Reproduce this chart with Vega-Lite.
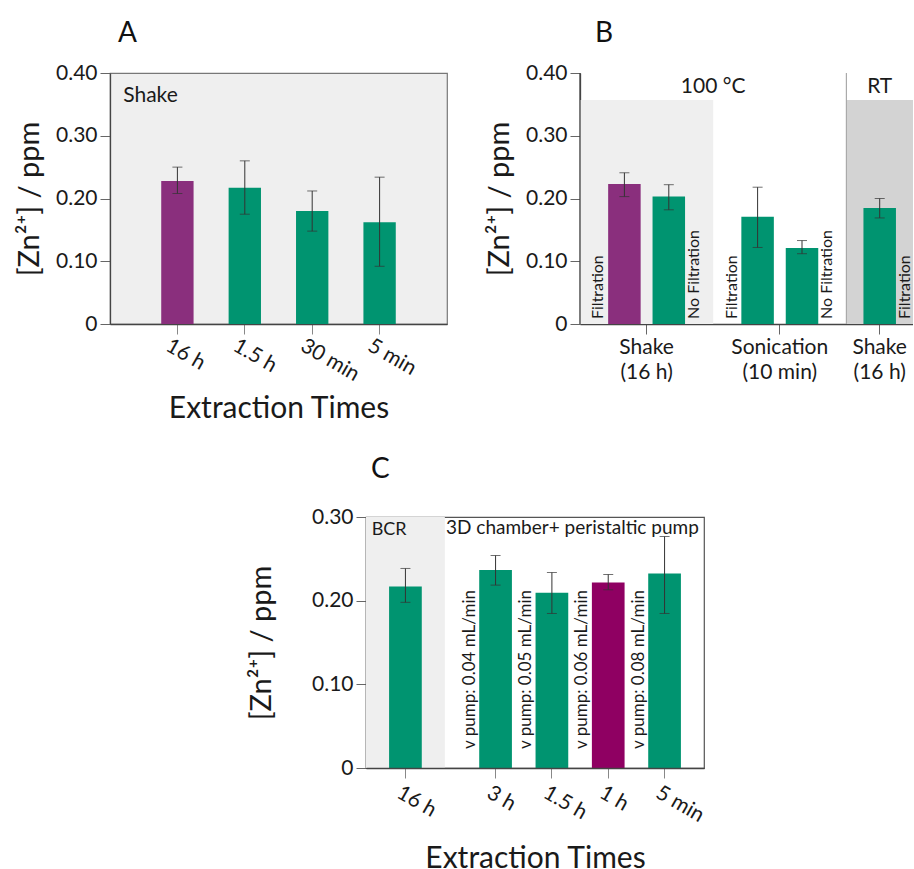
{
  "$schema": "https://vega.github.io/schema/vega-lite/v6.json",
  "background": "white",
  "padding": {"left": 14, "top": 19, "right": 0, "bottom": 0},
  "config": {
    "font": "Lato",
    "view": {"stroke": null},
    "axis": {"labelFont": "Lato", "titleFont": "Lato", "labelFontSize": 21, "titleFontSize": 29, "titleFontWeight": "normal", "labelColor": "#1a1a1a", "titleColor": "#1a1a1a", "domainColor": "#444", "domainWidth": 1.3, "tickColor": "#666", "tickSize": 10, "grid": false},
    "title": {"font": "Lato", "fontSize": 28, "fontWeight": "normal", "anchor": "start", "frame": "group", "color": "#111", "baseline": "alphabetic"},
    "text": {"font": "Lato", "color": "#1a1a1a"}
  },
  "spacing": 30,
  "vconcat": [
    {
      "bounds": "flush",
      "spacing": 133,
      "hconcat": [
        {
          "width": 337,
          "height": 251,
          "title": {"text": "A", "dx": 8, "offset": 14},
          "view": {"fill": "#efefef", "stroke": "#777", "strokeWidth": 1.2},
          "data": {"values": [
            {"t": "16 h", "v": 0.228, "lo": 0.208, "hi": 0.250},
            {"t": "1.5 h", "v": 0.217, "lo": 0.175, "hi": 0.260},
            {"t": "30 min", "v": 0.180, "lo": 0.148, "hi": 0.212},
            {"t": "5 min", "v": 0.162, "lo": 0.092, "hi": 0.234}
          ]},
          "encoding": {
            "x": {"field": "t", "type": "nominal", "sort": null,
              "scale": {"domain": ["16 h", "1.5 h", "30 min", "5 min"], "paddingInner": 0.52, "paddingOuter": 0.76},
              "axis": {"title": "Extraction Times", "titleFontSize": 30, "labelAngle": 30, "labelAlign": "left", "labelBaseline": "middle", "labelOffset": -10, "labelPadding": 10, "tickColor": "#888", "titlePadding": 9}}
          },
          "layer": [
            {"mark": {"type": "bar"},
             "encoding": {
               "y": {"field": "v", "type": "quantitative", "title": "[Zn²⁺] / ppm",
                 "scale": {"domain": [0, 0.4]},
                 "axis": {"values": [0, 0.1, 0.2, 0.3, 0.4], "labelExpr": "datum.value == 0 ? '0' : format(datum.value, '.2f')", "labelPadding": 3, "titlePadding": 11}},
               "color": {"condition": {"test": "datum.t == '16 h'", "value": "#8a2f7d"}, "value": "#009470"}}},
            {"mark": {"type": "rule", "color": "#333", "strokeWidth": 1},
             "encoding": {"y": {"field": "lo", "type": "quantitative", "title": "[Zn²⁺] / ppm"}, "y2": {"field": "hi"}}},
            {"mark": {"type": "tick", "color": "#333", "size": 10, "thickness": 1},
             "encoding": {"y": {"field": "lo", "type": "quantitative", "title": "[Zn²⁺] / ppm"}}},
            {"mark": {"type": "tick", "color": "#333", "size": 10, "thickness": 1},
             "encoding": {"y": {"field": "hi", "type": "quantitative", "title": "[Zn²⁺] / ppm"}}},
            {"data": {"values": [{"label": "Shake"}]},
             "mark": {"type": "text", "align": "left", "baseline": "middle", "fontSize": 21, "dx": -38},
             "encoding": {"x": {"datum": "16 h", "bandPosition": 0}, "y": {"datum": 0.364}, "text": {"field": "label"}}}
          ]
        },
        {
          "width": 333,
          "height": 251,
          "title": {"text": "B", "dx": 15, "offset": 14},
          "resolve": {"scale": {"x": "independent"}},
          "layer": [
            {
              "encoding": {
                "y": {"datum": 0, "type": "quantitative", "title": "[Zn²⁺] / ppm",
                  "scale": {"domain": [0, 0.4]},
                  "axis": {"values": [0, 0.1, 0.2, 0.3, 0.4], "labelExpr": "datum.value == 0 ? '0' : format(datum.value, '.2f')", "labelPadding": 3, "titlePadding": 11}},
                "y2": {"datum": 0.357}
              },
              "layer": [
                {"data": {"values": [{"zone": "100 °C shake"}]},
                 "mark": {"type": "rect", "color": "#efefef"},
                 "encoding": {
                   "x": {"datum": "z1", "type": "nominal", "bandPosition": 0, "scale": {"domain": ["z1", "z2", "z3", "z4", "z5"], "paddingInner": 0, "paddingOuter": 0}, "axis": null},
                   "x2": {"datum": "z2", "bandPosition": 1}}},
                {"data": {"values": [{"zone": "RT shake"}]},
                 "mark": {"type": "rect", "color": "#d3d3d3"},
                 "encoding": {
                   "x": {"datum": "z5", "type": "nominal", "bandPosition": 0, "scale": {"domain": ["z1", "z2", "z3", "z4", "z5"], "paddingInner": 0, "paddingOuter": 0}, "axis": null},
                   "x2": {"datum": "z5", "bandPosition": 1}}}
              ]
            },
            {
              "encoding": {
                "x": {"field": "c", "type": "nominal",
                  "scale": {"domain": ["b0", "b1", "b2", "shake-F", "b4", "shake", "b6", "shake-NF", "b8", "b9", "b10", "heat", "b12", "b13", "b14", "son-F", "b16", "son", "b18", "son-NF", "b20", "b21", "b22", "split", "b24", "b25", "rt-F", "b27", "b28"], "paddingInner": 0, "paddingOuter": 0.5},
                  "axis": {"title": null, "values": ["shake", "son", "rt-F"], "labelExpr": "datum.value == 'son' ? ['Sonication', '(10 min)'] : ['Shake', '(16 h)']", "labelAngle": 0, "labelAlign": "center", "labelBaseline": "top", "labelLineHeight": 25, "labelPadding": 2}}
              },
              "layer": [
                {"data": {"values": [{"c": "split"}]},
                 "mark": {"type": "rule", "color": "#aaa", "strokeWidth": 1.2},
                 "encoding": {"x": {"field": "c", "type": "nominal"}, "y": {"datum": 0, "type": "quantitative", "title": "[Zn²⁺] / ppm"}, "y2": {"datum": 0.4}}},
                {"data": {"values": [{"c": "top"}]},
                 "mark": {"type": "rule", "color": "#444", "strokeWidth": 1.3},
                 "encoding": {"y": {"datum": 0.4, "type": "quantitative", "title": "[Zn²⁺] / ppm"}}},
                {"data": {"values": [
                   {"c": "shake-F", "v": 0.223, "lo": 0.203, "hi": 0.241},
                   {"c": "shake-NF", "v": 0.203, "lo": 0.182, "hi": 0.222},
                   {"c": "son-F", "v": 0.171, "lo": 0.122, "hi": 0.218},
                   {"c": "son-NF", "v": 0.121, "lo": 0.112, "hi": 0.133},
                   {"c": "rt-F", "v": 0.185, "lo": 0.169, "hi": 0.200}
                 ]},
                 "layer": [
                   {"mark": {"type": "bar", "width": 32.5},
                    "encoding": {"y": {"field": "v", "type": "quantitative", "title": "[Zn²⁺] / ppm"},
                      "color": {"condition": {"test": "datum.c == 'shake-F'", "value": "#8a2f7d"}, "value": "#009470"}}},
                   {"mark": {"type": "rule", "color": "#333", "strokeWidth": 1},
                    "encoding": {"y": {"field": "lo", "type": "quantitative", "title": "[Zn²⁺] / ppm"}, "y2": {"field": "hi"}}},
                   {"mark": {"type": "tick", "color": "#333", "size": 10, "thickness": 1},
                    "encoding": {"y": {"field": "lo", "type": "quantitative", "title": "[Zn²⁺] / ppm"}}},
                   {"mark": {"type": "tick", "color": "#333", "size": 10, "thickness": 1},
                    "encoding": {"y": {"field": "hi", "type": "quantitative", "title": "[Zn²⁺] / ppm"}}}
                 ]},
                {"data": {"values": [
                   {"c": "shake-F", "label": "Filtration"},
                   {"c": "son-F", "label": "Filtration"}
                 ]},
                 "mark": {"type": "text", "angle": 270, "align": "left", "baseline": "middle", "fontSize": 16, "dx": 5, "dy": -26},
                 "encoding": {"y": {"datum": 0, "type": "quantitative", "title": "[Zn²⁺] / ppm"}, "text": {"field": "label"}}},
                {"data": {"values": [
                   {"c": "shake-NF", "label": "No Filtration"},
                   {"c": "son-NF", "label": "No Filtration"},
                   {"c": "rt-F", "label": "Filtration"}
                 ]},
                 "mark": {"type": "text", "angle": 270, "align": "left", "baseline": "middle", "fontSize": 16, "dx": 5, "dy": 25},
                 "encoding": {"y": {"datum": 0, "type": "quantitative", "title": "[Zn²⁺] / ppm"}, "text": {"field": "label"}}},
                {"data": {"values": [
                   {"c": "heat", "label": "100 °C"},
                   {"c": "rt-F", "label": "RT"}
                 ]},
                 "mark": {"type": "text", "align": "center", "baseline": "middle", "fontSize": 21},
                 "encoding": {"y": {"datum": 0.378, "type": "quantitative", "title": "[Zn²⁺] / ppm"}, "text": {"field": "label"}}}
              ]
            }
          ]
        }
      ]
    },
    {
      "bounds": "flush",
      "spacing": 55,
      "hconcat": [
        {
          "width": 201,
          "height": 10,
          "data": {"values": [{"label": ""}]},
          "mark": {"type": "text"},
          "encoding": {"text": {"field": "label"}}
        },
        {
          "width": 338,
          "height": 251,
          "title": {"text": "C", "dx": 5, "offset": 22},
          "view": {"stroke": "#555", "strokeWidth": 1.2},
          "encoding": {
            "x": {"field": "t", "type": "nominal",
              "scale": {"domain": ["c0", "c1", "c2", "16 h", "c4", "c5", "c6", "c7", "c8", "c9", "c10", "3 h", "c12", "c13", "c14", "c15", "1.5 h", "c17", "c18", "c19", "c20", "1 h", "c22", "c23", "c24", "c25", "5 min", "c27", "c28", "c29"], "paddingInner": 0, "paddingOuter": 0},
              "axis": {"title": "Extraction Times", "titleFontSize": 30, "values": ["16 h", "3 h", "1.5 h", "1 h", "5 min"], "labelAngle": 30, "labelAlign": "left", "labelBaseline": "middle", "labelOffset": -7, "labelPadding": 13, "tickColor": "#888", "titlePadding": 18}}
          },
          "layer": [
            {"data": {"values": [{"t": "BCR"}]},
             "mark": {"type": "rect", "color": "#efefef"},
             "encoding": {
               "x": {"datum": "c0", "bandPosition": 0},
               "x2": {"datum": "c6", "bandPosition": 1},
               "y": {"datum": 0, "type": "quantitative", "title": "[Zn²⁺] / ppm",
                 "scale": {"domain": [0, 0.3]},
                 "axis": {"values": [0, 0.1, 0.2, 0.3], "labelExpr": "datum.value == 0 ? '0' : format(datum.value, '.2f')", "labelPadding": 3, "titlePadding": 35}},
               "y2": {"datum": 0.3}}},
            {"data": {"values": [
               {"t": "16 h", "v": 0.217, "lo": 0.198, "hi": 0.2385},
               {"t": "3 h", "v": 0.2366, "lo": 0.2186, "hi": 0.254},
               {"t": "1.5 h", "v": 0.2094, "lo": 0.1847, "hi": 0.2337},
               {"t": "1 h", "v": 0.2217, "lo": 0.213, "hi": 0.2313},
               {"t": "5 min", "v": 0.2325, "lo": 0.1847, "hi": 0.2767}
             ]},
             "layer": [
               {"mark": {"type": "bar", "width": 32.7},
                "encoding": {"y": {"field": "v", "type": "quantitative", "title": "[Zn²⁺] / ppm"},
                  "color": {"condition": {"test": "datum.t == '1 h'", "value": "#8f0062"}, "value": "#009470"}}},
               {"mark": {"type": "rule", "color": "#333", "strokeWidth": 1},
                "encoding": {"y": {"field": "lo", "type": "quantitative", "title": "[Zn²⁺] / ppm"}, "y2": {"field": "hi"}}},
               {"mark": {"type": "tick", "color": "#333", "size": 10, "thickness": 1},
                "encoding": {"y": {"field": "lo", "type": "quantitative", "title": "[Zn²⁺] / ppm"}}},
               {"mark": {"type": "tick", "color": "#333", "size": 10, "thickness": 1},
                "encoding": {"y": {"field": "hi", "type": "quantitative", "title": "[Zn²⁺] / ppm"}}}
             ]},
            {"data": {"values": [
               {"t": "3 h", "label": "v pump: 0.04 mL/min"},
               {"t": "1.5 h", "label": "v pump: 0.05 mL/min"},
               {"t": "1 h", "label": "v pump: 0.06 mL/min"},
               {"t": "5 min", "label": "v pump: 0.08 mL/min"}
             ]},
             "mark": {"type": "text", "angle": 270, "align": "left", "baseline": "middle", "fontSize": 17, "dx": 19, "dy": -26},
             "encoding": {"y": {"datum": 0, "type": "quantitative", "title": "[Zn²⁺] / ppm"}, "text": {"field": "label"}}},
            {"data": {"values": [{"label": "BCR"}]},
             "mark": {"type": "text", "align": "left", "baseline": "middle", "fontSize": 18},
             "encoding": {"x": {"datum": "c0"}, "y": {"datum": 0.285, "type": "quantitative", "title": "[Zn²⁺] / ppm"}, "text": {"field": "label"}}},
            {"data": {"values": [{"label": "3D chamber+ peristaltic pump"}]},
             "mark": {"type": "text", "align": "left", "baseline": "middle", "fontSize": 19},
             "encoding": {"x": {"datum": "c7", "bandPosition": 0.1}, "y": {"datum": 0.287, "type": "quantitative", "title": "[Zn²⁺] / ppm"}, "text": {"field": "label"}}}
          ]
        }
      ]
    }
  ]
}
